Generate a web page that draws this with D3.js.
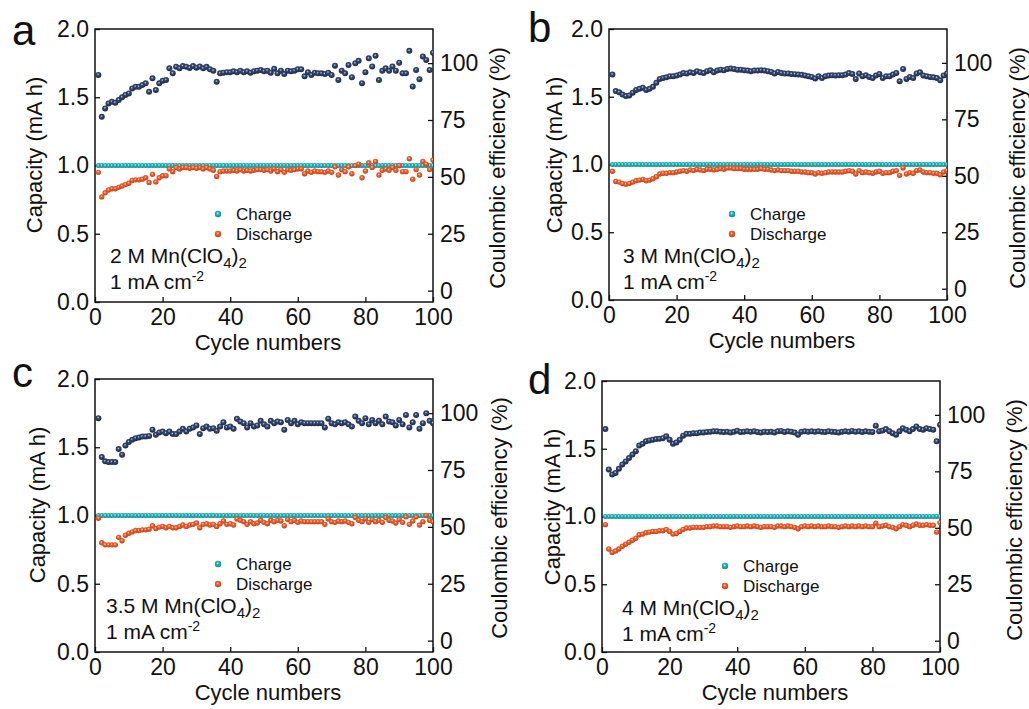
<!DOCTYPE html>
<html>
<head>
<meta charset="utf-8">
<script src="https://cdn.jsdelivr.net/npm/d3@7"></script>
<style>
  body { margin: 0; background: #fff; }
  svg { display: block; }
  text { font-family: "Liberation Sans", Arial, sans-serif; fill: #111; }
</style>
</head>
<body>
<svg id="chart" width="1029" height="709"></svg>
<script>
// Cycle index (x categories)
const cycles = d3.range(1, 101);

// Charge capacity (mA h) - flat at 1.0 in every panel
const chargeCap = [
  1.0,1.0,1.0,1.0,1.0,1.0,1.0,1.0,1.0,1.0, 1.0,1.0,1.0,1.0,1.0,1.0,1.0,1.0,1.0,1.0,
  1.0,1.0,1.0,1.0,1.0,1.0,1.0,1.0,1.0,1.0, 1.0,1.0,1.0,1.0,1.0,1.0,1.0,1.0,1.0,1.0,
  1.0,1.0,1.0,1.0,1.0,1.0,1.0,1.0,1.0,1.0, 1.0,1.0,1.0,1.0,1.0,1.0,1.0,1.0,1.0,1.0,
  1.0,1.0,1.0,1.0,1.0,1.0,1.0,1.0,1.0,1.0, 1.0,1.0,1.0,1.0,1.0,1.0,1.0,1.0,1.0,1.0,
  1.0,1.0,1.0,1.0,1.0,1.0,1.0,1.0,1.0,1.0, 1.0,1.0,1.0,1.0,1.0,1.0,1.0,1.0,1.0,1.0
];

// Panel a: 2 M Mn(ClO4)2
const disA = [
  0.95,0.77,0.80,0.82,0.83,0.83,0.84,0.85,0.86,0.87, 0.89,0.895,0.895,0.90,0.91,0.875,0.935,0.88,0.91,0.925,
  0.925,0.975,0.955,0.985,0.975,0.985,0.985,0.98,0.985,0.98, 0.985,0.975,0.985,0.975,0.965,0.92,0.955,0.96,0.96,0.96,
  0.965,0.96,0.97,0.96,0.965,0.96,0.965,0.97,0.97,0.965, 0.97,0.96,0.975,0.955,0.97,0.95,0.97,0.965,0.97,0.975,
  0.975,0.94,0.96,0.95,0.96,0.955,0.955,0.95,0.96,0.95, 0.99,0.93,0.97,0.955,0.99,0.94,1.00,1.01,0.91,0.96,
  1.02,0.985,1.03,0.93,0.965,0.975,0.965,0.985,0.965,1.00, 0.955,0.955,1.05,0.90,0.97,0.93,1.03,1.01,0.97,1.04
];
const ceA = [
  94.8,76.4,80.1,82.3,83.0,82.6,83.8,85.0,86.0,86.7, 88.9,89.6,89.6,90.4,91.1,87.4,93.3,88.2,91.1,92.3,
  92.6,97.7,95.5,98.4,97.7,98.7,98.4,97.9,98.7,98.0, 98.5,97.7,98.4,97.3,96.6,91.8,95.5,95.8,96.0,96.0,
  96.4,96.0,96.7,96.0,96.4,95.8,96.4,96.7,97.0,96.4, 96.7,95.8,97.5,95.5,96.7,95.2,96.7,96.4,96.7,97.3,
  97.3,94.2,96.0,94.8,95.8,95.5,95.5,95.2,95.8,94.8, 98.9,92.6,96.7,95.5,99.2,93.8,99.9,101.0,91.2,96.0,
  102.1,98.5,103.2,92.6,96.6,97.7,96.6,98.5,96.7,100.2, 95.5,95.5,105.4,89.7,97.0,92.9,102.9,101.4,97.0,104.6
];

// Panel b: 3 M Mn(ClO4)2
const disB = [
  0.95,0.875,0.87,0.86,0.855,0.86,0.87,0.88,0.885,0.89, 0.88,0.885,0.895,0.91,0.93,0.935,0.935,0.94,0.94,0.945,
  0.95,0.955,0.95,0.96,0.955,0.965,0.96,0.955,0.965,0.965, 0.96,0.965,0.97,0.965,0.975,0.975,0.97,0.97,0.97,0.965,
  0.965,0.965,0.965,0.965,0.97,0.965,0.965,0.96,0.955,0.96, 0.955,0.955,0.955,0.95,0.95,0.95,0.945,0.945,0.94,0.94,
  0.93,0.94,0.935,0.94,0.945,0.945,0.945,0.945,0.945,0.95, 0.955,0.95,0.93,0.955,0.94,0.945,0.94,0.935,0.945,0.95,
  0.935,0.94,0.94,0.95,0.955,0.92,0.975,0.93,0.94,0.935, 0.955,0.96,0.945,0.94,0.94,0.935,0.935,0.925,0.945,0.955
];
const ceB = [
  94.8,87.5,87.0,86.0,85.3,85.6,86.8,88.0,88.5,89.0, 88.0,88.5,89.4,91.2,92.9,93.3,93.6,94.1,94.1,94.4,
  94.8,95.5,95.3,95.8,95.5,96.3,95.8,95.5,96.3,96.7, 95.8,96.6,97.0,96.7,97.3,97.5,97.3,97.0,97.0,96.7,
  96.6,96.3,96.6,96.6,96.7,96.6,96.3,96.0,95.3,96.0, 95.5,95.3,95.3,95.1,95.0,94.8,94.7,94.4,94.1,93.8,
  93.1,94.1,93.3,94.1,94.4,94.5,94.4,94.5,94.5,94.8, 95.5,95.1,92.9,95.3,94.1,94.5,93.8,93.3,94.4,95.1,
  93.3,94.1,94.1,94.8,95.5,91.9,97.3,92.9,93.8,93.3, 95.3,95.8,94.4,94.1,93.8,93.6,93.3,92.3,94.4,95.3
];

// Panel c: 3.5 M Mn(ClO4)2
const disC = [
  0.98,0.80,0.785,0.785,0.785,0.785,0.84,0.815,0.855,0.87, 0.88,0.89,0.89,0.895,0.895,0.90,0.925,0.905,0.915,0.92,
  0.91,0.92,0.91,0.91,0.92,0.93,0.92,0.93,0.935,0.945, 0.91,0.935,0.94,0.93,0.935,0.92,0.94,0.96,0.935,0.94,
  0.93,0.975,0.965,0.955,0.935,0.955,0.94,0.945,0.965,0.95, 0.94,0.965,0.955,0.965,0.96,0.925,0.97,0.955,0.965,0.95,
  0.96,0.955,0.955,0.955,0.955,0.955,0.955,0.935,0.975,0.955, 0.95,0.96,0.955,0.96,0.95,0.94,0.985,0.965,0.955,0.975,
  0.95,0.97,0.955,0.965,0.95,0.985,0.965,0.96,0.945,0.97, 0.95,0.99,0.935,0.96,0.99,0.93,0.955,1.00,0.965,0.955
];
const ceC = [
  97.8,80.7,78.8,78.5,78.5,78.5,84.2,81.7,85.8,87.3, 88.3,89.0,89.3,89.7,89.7,90.0,92.7,90.5,91.5,91.9,
  91.2,91.9,90.8,90.8,91.9,93.1,91.9,93.1,93.7,94.6, 90.8,93.4,94.1,93.1,93.4,92.2,94.1,96.0,93.7,94.1,
  93.1,97.5,96.3,95.6,93.7,95.6,94.1,94.6,96.6,95.1, 94.1,96.6,95.6,96.3,96.0,92.7,97.0,95.6,96.6,95.1,
  96.0,95.6,95.6,95.6,95.6,95.6,95.6,93.7,97.5,95.6, 95.1,96.0,95.6,96.0,95.1,94.1,98.5,96.6,95.6,97.8,
  95.1,97.0,95.6,96.6,95.1,98.5,96.3,96.0,94.6,97.0, 95.1,99.2,93.7,96.0,99.2,93.1,95.6,100.0,96.6,95.6
];

// Panel d: 4 M Mn(ClO4)2
const disD = [
  0.94,0.76,0.735,0.745,0.76,0.78,0.795,0.81,0.825,0.84, 0.865,0.87,0.88,0.885,0.89,0.89,0.895,0.895,0.905,0.89,
  0.87,0.875,0.89,0.905,0.915,0.915,0.92,0.92,0.92,0.92, 0.925,0.925,0.93,0.93,0.925,0.925,0.925,0.92,0.925,0.93,
  0.925,0.925,0.93,0.925,0.93,0.925,0.92,0.925,0.925,0.925, 0.92,0.93,0.93,0.925,0.93,0.925,0.92,0.91,0.925,0.93,
  0.925,0.93,0.925,0.93,0.925,0.925,0.93,0.925,0.925,0.92, 0.925,0.93,0.925,0.93,0.925,0.93,0.925,0.93,0.925,0.925,
  0.95,0.925,0.93,0.935,0.925,0.92,0.91,0.925,0.94,0.935, 0.925,0.935,0.945,0.935,0.935,0.94,0.935,0.935,0.885,0.955
];
const ceD = [
  93.7,75.8,73.6,74.3,76.1,78.0,79.4,80.9,82.4,83.9, 86.4,87.2,88.3,88.7,89.0,89.3,89.4,89.7,90.5,89.0,
  87.2,87.8,89.0,90.8,91.6,91.6,91.9,91.9,92.2,92.2, 92.4,92.5,92.7,92.7,92.5,92.4,92.5,92.2,92.5,93.0,
  92.4,92.5,92.7,92.5,92.7,92.4,92.2,92.5,92.4,92.5, 92.2,92.7,92.9,92.4,92.7,92.5,92.2,91.2,92.5,92.7,
  92.5,92.7,92.5,92.7,92.5,92.4,92.7,92.5,92.4,92.2, 92.5,92.7,92.5,92.9,92.5,92.7,92.4,92.7,92.5,92.4,
  95.2,92.7,93.1,93.7,92.7,91.9,91.2,92.7,94.1,93.4, 92.7,93.7,94.9,93.7,93.4,94.1,93.7,93.4,88.3,95.6
];

const xTicks = [0, 20, 40, 60, 80, 100];
const capTicks = [0, 0.5, 1.0, 1.5, 2.0];
const ceTicks = [0, 25, 50, 75, 100];
const concLabels = ['2', '3', '3.5', '4'];
const panelLetters = ['a', 'b', 'c', 'd'];

// Layout of the four frames
const layout = [
  { left: 95,  right: 433, top: 29,  bottom: 302, lx: 12,  ly: 45,  yOff: 53, y2Off: 72, annX: 15 },
  { left: 609, right: 947, top: 29,  bottom: 300, lx: 528, ly: 42,  yOff: 47, y2Off: 78, annX: 14 },
  { left: 95,  right: 433, top: 379, bottom: 652, lx: 12,  ly: 387, yOff: 50, y2Off: 74, annX: 11 },
  { left: 602, right: 940, top: 381, bottom: 652, lx: 528, ly: 394, yOff: 42, y2Off: 82, annX: 20 },
];
const series = [[disA, ceA], [disB, ceB], [disC, ceC], [disD, ceD]];

const COLORS = {
  charge: { hi: '#e4fbfc', base: '#22b6bd', lo: '#12888e' },
  discharge: { hi: '#ffd9c6', base: '#f2612c', lo: '#c0401a' },
  ce: { hi: '#c9d2e4', base: '#34476f', lo: '#1c2a4a' },
};

const svg = d3.select('#chart');
const defs = svg.append('defs');

Object.entries(COLORS).forEach(([key, c]) => {
  const grad = defs.append('radialGradient')
    .attr('id', `ball-${key}`)
    .attr('cx', '45%').attr('cy', '40%').attr('r', '60%')
    .attr('fx', '45%').attr('fy', '40%');
  grad.append('stop').attr('offset', '0%').attr('stop-color', c.hi);
  grad.append('stop').attr('offset', '35%').attr('stop-color', c.base);
  grad.append('stop').attr('offset', '100%').attr('stop-color', c.lo);
});

function drawPanel(p, i) {
  const [dis, ce] = series[i];
  const g = svg.append('g').attr('class', `panel-${panelLetters[i]}`);

  const x = d3.scaleLinear().domain([0, 100]).range([p.left, p.right]);
  const y = d3.scaleLinear().domain([0, 2]).range([p.bottom, p.top]);
  const y2 = d3.scaleLinear().domain([-5, 115]).range([p.bottom, p.top]);

  defs.append('clipPath').attr('id', `clip-${i}`)
    .append('rect')
      .attr('x', p.left).attr('y', p.top)
      .attr('width', p.right - p.left).attr('height', p.bottom - p.top);

  // Axes, ticks pointing inward
  const axisFont = (sel) => sel.selectAll('text')
    .style('font-size', '23px')
    .style('font-family', '"Liberation Sans", Arial, sans-serif')
    .attr('fill', '#111');

  g.append('g')
      .attr('transform', `translate(0,${p.bottom})`)
      .call(d3.axisBottom(x).tickValues(xTicks).tickSizeInner(-5).tickSizeOuter(0).tickPadding(3))
      .call((s) => s.select('.domain').remove())
      .call(axisFont)
      .call((s) => s.selectAll('text').attr('y', 23).attr('dy', 0));

  g.append('g')
      .attr('transform', `translate(${p.left},0)`)
      .call(d3.axisLeft(y).tickValues(capTicks).tickFormat(d3.format('.1f'))
        .tickSizeInner(-5).tickSizeOuter(0).tickPadding(6))
      .call((s) => s.select('.domain').remove())
      .call(axisFont);

  g.append('g')
      .attr('transform', `translate(${p.right},0)`)
      .call(d3.axisRight(y2).tickValues(ceTicks).tickSizeInner(-5).tickSizeOuter(0).tickPadding(7))
      .call((s) => s.select('.domain').remove())
      .call(axisFont);

  g.selectAll('.tick line').attr('stroke', '#111').attr('stroke-width', 1.3);

  // Frame
  g.append('rect')
    .attr('x', p.left).attr('y', p.top)
    .attr('width', p.right - p.left).attr('height', p.bottom - p.top)
    .attr('fill', 'none').attr('stroke', '#111').attr('stroke-width', 1.5);

  // Data points
  const pts = g.append('g').attr('clip-path', `url(#clip-${i})`);

  pts.append('g').selectAll('circle')
    .data(cycles.map((c, k) => [c, chargeCap[k]]))
    .join('circle')
      .attr('cx', (d) => x(d[0])).attr('cy', (d) => y(d[1]))
      .attr('r', 2.5).attr('fill', 'url(#ball-charge)');

  pts.append('g').selectAll('circle')
    .data(cycles.map((c, k) => [c, dis[k]]))
    .join('circle')
      .attr('cx', (d) => x(d[0])).attr('cy', (d) => y(d[1]))
      .attr('r', 2.7).attr('fill', 'url(#ball-discharge)');

  pts.append('g').selectAll('circle')
    .data(cycles.map((c, k) => [c, ce[k]]))
    .join('circle')
      .attr('cx', (d) => x(d[0])).attr('cy', (d) => y2(d[1]))
      .attr('r', 3).attr('fill', 'url(#ball-ce)');

  // Axis titles
  g.append('text')
    .attr('transform', `translate(${p.left + (p.right - p.left) / 2 + 4},${p.bottom + 48})`)
    .attr('text-anchor', 'middle').style('font-size', '22px')
    .text('Cycle numbers');

  g.append('text')
    .attr('transform', `translate(${p.left - p.yOff},${p.top + 126}) rotate(-90)`)
    .attr('text-anchor', 'middle').style('font-size', '22px')
    .text('Capacity (mA h)');

  g.append('text')
    .attr('transform', `translate(${p.right + p.y2Off},${p.top + 139}) rotate(-90)`)
    .attr('text-anchor', 'middle').style('font-size', '22px')
    .text('Coulombic efficiency (%)');

  // Panel letter
  g.append('text')
    .attr('x', p.lx).attr('y', p.ly)
    .style('font-size', '42px')
    .text(panelLetters[i]);

  // Legend
  const legend = [
    { name: 'Charge', key: 'charge', dy: 185, ty: 191 },
    { name: 'Discharge', key: 'discharge', dy: 205, ty: 211 },
  ];
  legend.forEach((l) => {
    g.append('circle')
      .attr('cx', p.left + 123).attr('cy', p.top + l.dy)
      .attr('r', 3.2).attr('fill', `url(#ball-${l.key})`);
    g.append('text')
      .attr('x', p.left + 141).attr('y', p.top + l.ty)
      .style('font-size', '17px')
      .text(l.name);
  });

  // Electrolyte / current annotation
  const t1 = g.append('text')
    .attr('x', p.left + p.annX).attr('y', p.top + 234)
    .style('font-size', '21px');
  t1.append('tspan').text(`${concLabels[i]} M Mn(ClO`);
  t1.append('tspan').attr('dy', 5).style('font-size', '15px').text('4');
  t1.append('tspan').attr('dy', -5).text(')');
  t1.append('tspan').attr('dy', 5).style('font-size', '15px').text('2');

  const t2 = g.append('text')
    .attr('x', p.left + p.annX).attr('y', p.top + 260)
    .style('font-size', '21px');
  t2.append('tspan').text('1 mA cm');
  t2.append('tspan').attr('dy', -8).style('font-size', '14px').text('-2');
}

layout.forEach(drawPanel);
</script>
</body>
</html>
